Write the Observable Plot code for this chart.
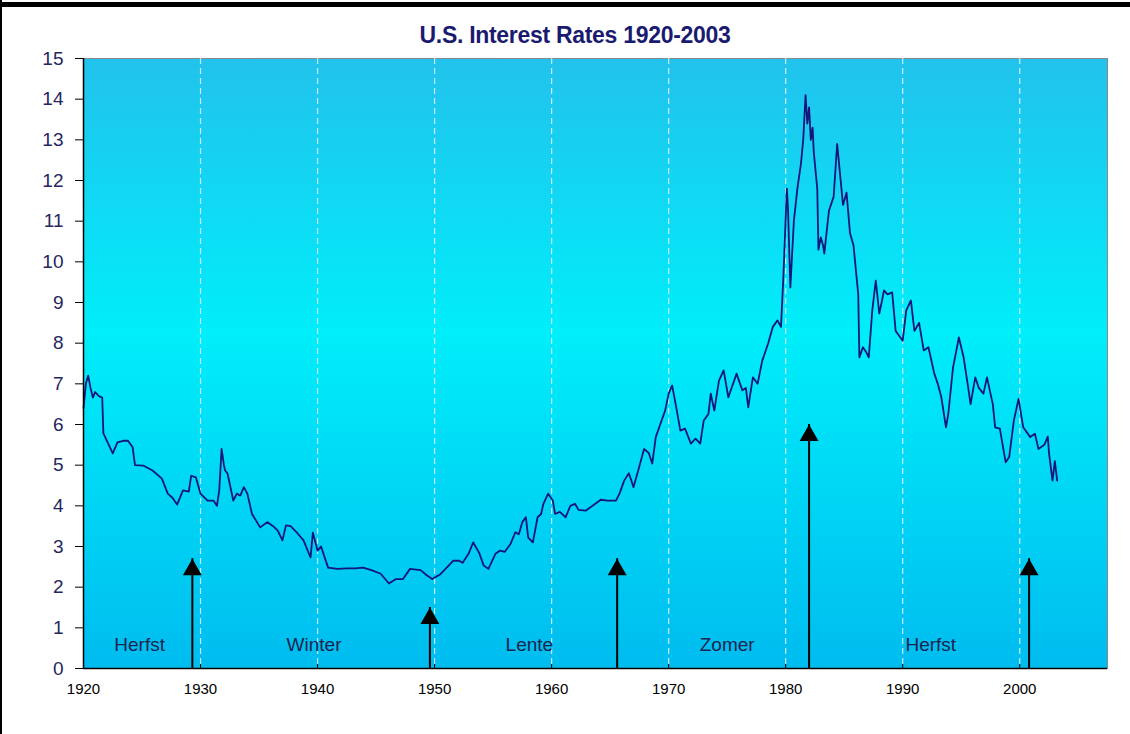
<!DOCTYPE html>
<html>
<head>
<meta charset="utf-8">
<script src="https://cdn.jsdelivr.net/npm/d3@7"></script>
<script src="https://cdn.jsdelivr.net/npm/@observablehq/plot@0.6"></script>
<style>
  body { margin: 0; background: #fff; }
  #wrap { position: relative; width: 1130px; height: 734px; overflow: hidden; background: #fff; }
  #topbar { position: absolute; left: 0; top: 2px; width: 1130px; height: 5px; background: #000; }
  #leftbar { position: absolute; left: 0; top: 0; width: 2px; height: 734px; background: #000; }
  #title { height: 48px; box-sizing: border-box; padding-top: 25px; padding-left: 20px; text-align: center;
           font: bold 23px "Liberation Sans", Arial, sans-serif; line-height: 20px; color: #1a1a70;
           letter-spacing: -0.3px; }
  svg { display: block; }
</style>
</head>
<body>
<div id="wrap">
  <div id="topbar"></div>
  <div id="leftbar"></div>
  <div id="title">U.S. Interest Rates 1920-2003</div>
  <div id="chart"></div>
</div>
<script>
// ---- data ----
const years = [
  1920.0,1920.2,1920.4,1920.6,1920.8,1921.0,1921.3,1921.6,1921.7,1922.0,1922.5,1922.9,1923.4,1923.8,1924.2,1924.4,
  1925.1,1925.9,1926.7,1927.2,1927.6,1928.0,1928.5,1929.0,1929.2,1929.6,1930.0,1930.6,1931.1,1931.4,1931.6,1931.8,
  1932.0,1932.1,1932.3,1932.8,1933.1,1933.4,1933.7,1934.0,1934.4,1935.1,1935.7,1936.2,1936.6,1937.0,1937.3,1937.7,
  1938.3,1938.8,1939.4,1939.6,1940.0,1940.3,1940.9,1941.7,1942.5,1943.2,1943.9,1944.6,1945.4,1946.1,1946.7,1947.3,
  1947.9,1948.8,1949.3,1949.8,1950.5,1951.2,1951.6,1952.1,1952.4,1952.9,1953.3,1953.8,1954.2,1954.6,1955.2,1955.6,
  1956.0,1956.5,1956.9,1957.2,1957.5,1957.8,1958.0,1958.4,1958.8,1959.1,1959.3,1959.7,1960.1,1960.3,1960.7,1961.2,
  1961.6,1962.0,1962.3,1962.9,1963.5,1964.2,1964.8,1965.5,1965.8,1966.2,1966.6,1967.0,1967.4,1967.9,1968.3,1968.6,
  1968.9,1969.3,1969.7,1970.0,1970.3,1970.7,1971.0,1971.4,1971.9,1972.3,1972.7,1973.0,1973.4,1973.6,1973.9,1974.3,
  1974.7,1975.1,1975.6,1975.8,1976.3,1976.6,1976.8,1977.2,1977.6,1978.0,1978.5,1978.9,1979.3,1979.6,1979.8,1980.1,
  1980.2,1980.4,1980.7,1981.0,1981.3,1981.5,1981.7,1981.85,1982.0,1982.15,1982.3,1982.4,1982.7,1982.8,1983.0,1983.2,
  1983.3,1983.7,1984.1,1984.4,1984.6,1984.9,1985.2,1985.5,1985.8,1986.2,1986.3,1986.6,1986.9,1987.1,1987.4,1987.7,
  1988.0,1988.2,1988.4,1988.7,1989.1,1989.4,1990.0,1990.3,1990.7,1991.0,1991.4,1991.8,1992.2,1992.7,1993.0,1993.3,
  1993.7,1993.9,1994.3,1994.8,1995.2,1995.6,1995.8,1996.2,1996.5,1996.9,1997.2,1997.7,1997.9,1998.3,1998.8,1999.1,
  1999.5,1999.9,2000.3,2000.9,2001.3,2001.6,2002.1,2002.4,2002.5,2002.8,2003.0,2003.2
];
const rates = [
  6.4,7.0,7.2,6.9,6.66,6.8,6.7,6.66,5.78,5.6,5.29,5.56,5.6,5.6,5.44,5.0,
  4.99,4.87,4.67,4.3,4.2,4.03,4.38,4.35,4.74,4.7,4.3,4.13,4.13,4.0,4.38,5.4,
  5.0,4.87,4.8,4.13,4.3,4.25,4.46,4.3,3.8,3.47,3.6,3.5,3.39,3.15,3.52,3.5,
  3.32,3.15,2.73,3.34,2.9,3.0,2.48,2.45,2.46,2.46,2.48,2.42,2.33,2.09,2.2,2.2,
  2.45,2.42,2.3,2.2,2.32,2.53,2.65,2.65,2.6,2.82,3.1,2.85,2.53,2.45,2.82,2.9,
  2.87,3.07,3.35,3.3,3.6,3.72,3.22,3.1,3.72,3.8,4.05,4.3,4.13,3.8,3.85,3.72,
  4.0,4.05,3.9,3.88,4.0,4.15,4.13,4.13,4.3,4.62,4.8,4.46,4.87,5.4,5.3,5.04,
  5.69,6.02,6.34,6.76,6.96,6.34,5.85,5.9,5.53,5.65,5.53,6.1,6.26,6.76,6.34,7.08,
  7.33,6.67,7.08,7.25,6.84,6.9,6.42,7.16,7.0,7.57,7.99,8.4,8.56,8.4,9.6,11.8,
  11.3,9.37,11.0,11.8,12.4,13.0,14.1,13.4,13.8,13.0,13.3,12.7,11.8,10.3,10.6,10.4,
  10.2,11.26,11.6,12.9,12.3,11.4,11.7,10.7,10.4,9.2,7.65,7.9,7.77,7.65,8.8,9.54,
  8.73,9.0,9.3,9.2,9.25,8.3,8.06,8.8,9.05,8.3,8.5,7.82,7.9,7.25,7.0,6.67,
  5.93,6.27,7.4,8.14,7.66,6.9,6.5,7.16,6.9,6.76,7.16,6.5,5.93,5.9,5.07,5.2,
  6.1,6.63,5.93,5.69,5.77,5.4,5.5,5.7,5.3,4.62,5.1,4.62
];
const xTicks = [1920, 1930, 1940, 1950, 1960, 1970, 1980, 1990, 2000];
const gridYears = [1930, 1940, 1950, 1960, 1970, 1980, 1990, 2000];
const yTicks = [0,1,2,3,4,5,6,7,8,9,10,11,12,13,14,15];
const seasonNames = ["Herfst", "Winter", "Lente", "Zomer", "Herfst"];
const seasonYears = [1924.8, 1939.7, 1958.1, 1975.0, 1992.4];
const arrowYears = [1929.3, 1949.6, 1965.6, 1982.0, 2000.8];
const arrowTips = [2.7, 1.5, 2.7, 6.0, 2.7];

const series = years.map((y, i) => ({year: y, rate: rates[i]}));
const seasons = seasonNames.map((n, i) => ({name: n, year: seasonYears[i]}));
const arrows = arrowYears.map((y, i) => ({year: y, tip: arrowTips[i]}));

const gradientDefs = () => {
  const defs = d3.create("svg:defs");
  const g = defs.append("linearGradient").attr("id", "bg").attr("x1", 0).attr("y1", 0).attr("x2", 0).attr("y2", 1);
  g.append("stop").attr("offset", "0%").attr("stop-color", "#22c2ec");
  g.append("stop").attr("offset", "45%").attr("stop-color", "#00eefa");
  g.append("stop").attr("offset", "100%").attr("stop-color", "#00bcef");
  return defs.node();
};

const chart = Plot.plot({
  width: 1130,
  height: 686,
  marginTop: 10,
  marginBottom: 66,
  marginLeft: 83,
  marginRight: 23,
  style: {fontFamily: "'Liberation Sans', Arial, sans-serif", background: "transparent"},
  x: {domain: [1920, 2007.5]},
  y: {domain: [0, 15]},
  marks: [
    gradientDefs,
    Plot.frame({fill: "url(#bg)", stroke: "#8a8a8a", strokeWidth: 1}),
    Plot.ruleX(gridYears, {stroke: "#e6f6f8", strokeDasharray: "6,4", strokeWidth: 1.2, strokeOpacity: 0.85}),
    Plot.ruleX(xTicks, {y1: 0, y2: 0.1, stroke: "#000"}),
    Plot.text(seasons, {x: "year", y: 0.57, text: "name", fontSize: 19, fill: "#1c2450"}),
    Plot.ruleX(arrows, {x: "year", y1: 0, y2: "tip", stroke: "#000", strokeWidth: 2}),
    Plot.dot(arrows, {x: "year", y: "tip", symbol: "triangle", r: 7, fill: "#000", stroke: "none", dy: 11}),
    Plot.line(series, {x: "year", y: "rate", stroke: "#15157c", strokeWidth: 1.8}),
    Plot.ruleX([1920], {stroke: "#000", strokeWidth: 1.5}),
    Plot.ruleY([0], {stroke: "#000", strokeWidth: 1.5}),
    Plot.axisY({ticks: yTicks, tickSize: 8, tickPadding: 12, fontSize: 19, stroke: "#000", fill: "#26265e", label: null}),
    Plot.axisX({ticks: xTicks, tickSize: 0, tickPadding: 15, tickFormat: d => String(d), fontSize: 15, fill: "#000", label: null})
  ]
});
document.getElementById("chart").appendChild(chart);
</script>
</body>
</html>
